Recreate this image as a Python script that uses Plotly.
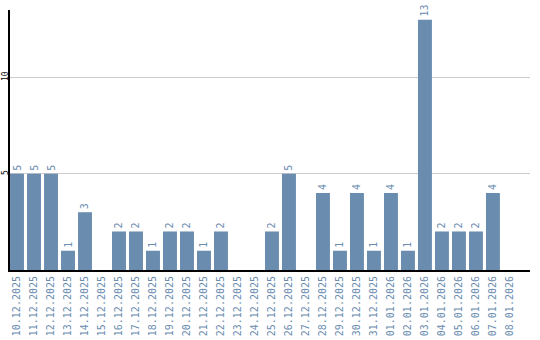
import plotly.graph_objects as go

dates = ["10.12.2025","11.12.2025","12.12.2025","13.12.2025","14.12.2025","15.12.2025",
         "16.12.2025","17.12.2025","18.12.2025","19.12.2025","20.12.2025","21.12.2025",
         "22.12.2025","23.12.2025","24.12.2025","25.12.2025","26.12.2025","27.12.2025",
         "28.12.2025","29.12.2025","30.12.2025","31.12.2025","01.01.2026","02.01.2026",
         "03.01.2026","04.01.2026","05.01.2026","06.01.2026","07.01.2026","08.01.2026"]
counts = [5,5,5,1,3,0,2,2,1,2,2,1,2,0,0,2,5,0,4,1,4,1,4,1,13,2,2,2,4,0]

bar_color = "#6a8caf"
label_color = "#6a8caf"
font_family = "DejaVu Sans Mono"

fig = go.Figure(go.Bar(
    x=dates, y=counts,
    marker_color=bar_color, marker_line_width=0,
    width=0.82,
    text=[str(v) if v else "" for v in counts],
    textposition="outside", textangle=-90,
    textfont=dict(family=font_family, size=10, color=label_color),
    cliponaxis=False,
))

fig.update_layout(
    width=540, height=340,
    margin=dict(l=10, r=10, t=10, b=70),
    paper_bgcolor="white", plot_bgcolor="white",
    showlegend=False,
    xaxis=dict(
        type="category", range=[-0.412, 30.18],
        tickangle=-90, tickfont=dict(family=font_family, size=10, color=label_color),
        showline=True, linecolor="black", linewidth=2,
        showgrid=False, ticks="", automargin=False,
    ),
    yaxis=dict(
        range=[0, 13.5], tickvals=[5, 10], ticktext=["5", "10"],
        tickangle=-90, tickfont=dict(family=font_family, size=8, color="black"),
        showline=True, linecolor="black", linewidth=2,
        showgrid=True, gridcolor="#cccccc", gridwidth=1,
        zeroline=False, ticks="", automargin=False, ticklabelstandoff=-3,
    ),
)

fig.write_html("out.html")
